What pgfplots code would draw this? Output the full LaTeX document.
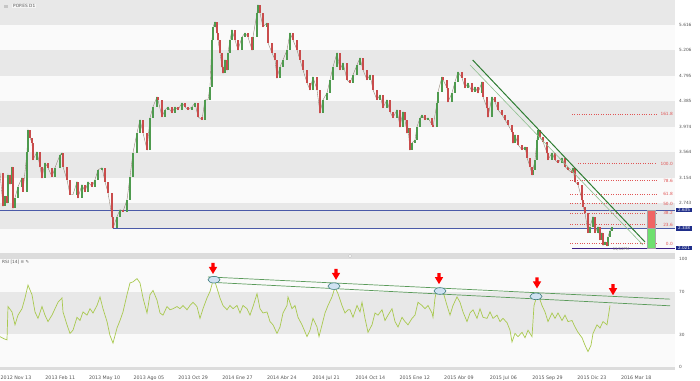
\documentclass[border=0pt]{standalone}
\usepackage{pgfplots}
\pgfplotsset{compat=1.18}
\usepackage{pgfplotstable}
\usepackage{fontspec}
\setmainfont{DejaVu Sans}
\definecolor{bandgray}{HTML}{E8E8E8}
\definecolor{bandwhite}{HTML}{FAFAFA}
\definecolor{stripgray}{HTML}{DCDCDC}
\definecolor{upc}{HTML}{4E9A4E}
\definecolor{dnc}{HTML}{C94C4C}
\definecolor{wick}{HTML}{8A7A6A}
\definecolor{rsic}{HTML}{A9C94F}
\definecolor{trendg}{HTML}{2E7D32}
\definecolor{trendl}{HTML}{8FC08F}
\definecolor{navyb}{HTML}{1F2E8A}
\definecolor{bluel}{HTML}{4A5AA8}
\definecolor{fibred}{HTML}{E05555}
\definecolor{ticktext}{HTML}{555555}
\definecolor{ellfill}{HTML}{D0E2F2}
\definecolor{elldraw}{HTML}{3F7F80}
\definecolor{boxred}{HTML}{F06464}
\definecolor{boxgreen}{HTML}{6EE06E}
\definecolor{rsitrend}{HTML}{5A9A5A}

\pgfdeclareplotmark{darrow}{%
  \pgfpathmoveto{\pgfqpoint{-1.6bp}{5.5bp}}%
  \pgfpathlineto{\pgfqpoint{1.6bp}{5.5bp}}%
  \pgfpathlineto{\pgfqpoint{1.6bp}{1.5bp}}%
  \pgfpathlineto{\pgfqpoint{4.2bp}{1.5bp}}%
  \pgfpathlineto{\pgfqpoint{0bp}{-5.5bp}}%
  \pgfpathlineto{\pgfqpoint{-4.2bp}{1.5bp}}%
  \pgfpathlineto{\pgfqpoint{-1.6bp}{1.5bp}}%
  \pgfpathclose
  \pgfusepathqfill}
\pgfdeclareplotmark{ell}{%
  \pgfpathellipse{\pgfpointorigin}{\pgfqpoint{6bp}{0bp}}{\pgfqpoint{0bp}{3.3bp}}%
  \pgfusepathqfillstroke}

\pgfplotstableread{
x c
0 3.233
3 2.70
5 2.85
7 2.750
8 3.201
10 3.05
12 3.330
13 2.66
15 2.831
18 3.008
22 3.153
23 2.927
27 3.571
28 3.926
30 3.80
32 3.716
33 3.442
37 3.571
40 3.330
42 3.153
45 3.394
48 3.314
52 3.169
55 3.314
60 3.523
62 3.555
63 3.330
67 3.120
70 2.879
73 2.879
77 3.088
78 2.831
82 3.040
85 2.927
88 3.088
92 3.008
95 3.120
98 3.281
102 3.314
105 3.088
108 2.911
112 2.525
113 2.34
117 2.525
120 2.637
123 2.605
127 2.798
130 3.169
133 3.555
137 3.877
140 4.087
143 3.877
147 3.604
150 4.119
153 4.296
157 4.457
158 4.409
162 4.135
165 4.248
168 4.296
172 4.199
175 4.296
178 4.248
182 4.360
185 4.296
188 4.248
192 4.296
195 4.360
198 4.135
202 4.087
205 4.409
208 4.409
210 4.618
212 5.375
213 5.584
215 5.665
217 5.488
218 5.375
220 5.166
222 4.940
223 4.843
225 5.053
227 4.892
228 5.166
230 5.375
232 5.536
235 5.375
238 5.214
242 5.423
245 5.488
248 5.423
252 5.214
253 5.423
257 5.810
258 5.938
260 5.810
263 5.584
267 5.649
268 5.327
272 5.166
275 5.053
277 4.763
280 4.940
283 5.053
287 5.214
290 5.488
293 5.375
297 5.214
300 5.053
303 4.892
307 4.682
310 4.570
313 4.779
317 4.570
320 4.199
323 4.409
327 4.521
330 4.731
333 4.940
337 5.166
340 4.892
343 5.005
347 4.731
350 4.682
353 4.811
357 4.972
360 5.085
363 4.892
367 4.731
370 4.811
373 4.570
377 4.409
380 4.489
383 4.280
387 4.409
390 4.215
393 4.119
397 4.248
400 3.974
403 4.216
405 4.087
407 3.877
408 3.958
410 3.604
412 3.716
415 3.765
417 3.974
420 4.119
422 4.167
425 4.087
428 4.119
432 4.006
433 3.974
437 4.360
438 4.538
442 4.779
443 4.731
447 4.602
448 4.376
452 4.521
455 4.699
458 4.860
462 4.763
465 4.602
468 4.682
472 4.538
475 4.618
478 4.521
482 4.699
483 4.457
487 4.280
488 4.135
492 4.457
495 4.376
498 4.248
502 4.167
505 4.087
508 4.006
512 3.893
513 3.716
515 3.845
518 3.684
522 3.604
525 3.652
527 3.475
530 3.330
532 3.201
533 3.282
535 3.442
537 3.765
538 3.926
540 3.813
543 3.732
547 3.555
548 3.442
552 3.555
555 3.442
558 3.394
562 3.475
565 3.330
568 3.282
572 3.233
573 3.314
575 3.088
578 3.040
582 2.798
583 2.686
585 2.589
588 2.267
590 2.364
593 2.525
595 2.267
598 2.364
600 2.154
602 2.267
603 2.06
605 2.12
607 2.05
608 2.203
610 2.30
612 2.36
}\price
\pgfplotstablecreatecol[create col/assign/.code={%
  \ifnum\pgfplotstablerow=0 \getthisrow{c}\pv \else \getprevrow{c}\pv \fi
  \pgfkeyslet{/pgfplots/table/create col/next content}\pv}]{o}{\price}

\pgfplotstableread{
x r
0 28
4 26
7 25
8 56
12 51
15 39
18 48
22 54
25 64
28 76
32 67
35 51
38 45
42 56
45 48
48 42
52 48
55 54
58 60
62 64
63 51
67 39
70 31
73 34
77 46
80 43
83 51
87 48
90 54
93 50
97 57
100 65
103 54
107 42
110 29
113 22
117 36
120 43
123 51
127 67
130 78
133 79
137 82
140 78
143 64
147 50
150 67
153 71
157 62
160 50
163 48
167 56
170 53
173 54
177 56
180 54
183 57
187 53
190 57
193 60
197 56
200 45
203 54
207 64
210 70
213 80
215 79
217 73
220 64
223 57
227 53
230 57
233 54
237 57
240 50
243 57
247 54
250 48
253 56
257 68
260 54
263 50
267 51
270 42
273 39
277 31
280 37
283 50
287 57
288 65
292 54
295 57
298 46
302 39
307 28
310 34
313 45
317 37
319 28
322 39
325 50
328 57
332 65
335 74
338 68
342 57
345 50
348 53
350 53
353 46
357 57
360 51
362 60
365 45
368 32
372 39
375 50
378 48
382 53
385 43
388 48
392 54
395 42
398 37
402 46
405 42
408 39
412 45
415 48
418 60
422 57
425 54
428 57
432 50
433 46
435 64
437 72
440 70
443 70
447 57
450 48
453 57
457 65
460 60
463 51
467 42
470 50
473 53
477 45
480 54
483 46
487 45
490 51
493 45
497 48
500 42
503 45
507 41
510 34
512 23
515 31
518 28
522 32
525 27
528 34
532 28
534 57
537 66
539 65
542 57
545 51
548 42
552 50
555 45
558 50
562 43
565 48
568 42
572 43
575 37
578 32
582 27
585 20
588 14
591 20
593 31
597 39
600 36
603 42
607 39
610 57
}\rsi

\newcommand{\tickfont}{\fontsize{4.3}{5}\selectfont}
\newcommand{\datefont}{\fontsize{4.8}{5.5}\selectfont}
\tikzset{fibline/.style={fibred, line width=0.6bp, dash pattern=on 1bp off 1.4bp}}

\begin{document}
\begin{tikzpicture}
\path[use as bounding box] (0,0) rectangle (700bp,381bp);
% ---------------- price panel ----------------
\begin{axis}[
  anchor=south west, at={(0,128bp)},
  width=675bp, height=253bp, scale only axis,
  xmin=0, xmax=675, ymin=1.9387, ymax=6.0192,
  axis line style={draw=none}, major tick length=0pt, tick style={draw=none},
  xtick=\empty,
  ytick={2.743,3.154,3.564,3.974,4.385,4.795,5.206,5.616},
  yticklabels={2.743,3.154,3.564,3.974,4.385,4.795,5.206,5.616},
  yticklabel pos=right,
  yticklabel style={font=\tickfont, text=ticktext, anchor=west, inner sep=0pt, xshift=4bp},
  axis background/.style={fill=bandwhite},
  clip=false,
]
% bands
\addplot[fill=bandgray, draw=none, forget plot] coordinates {(0,5.616) (675,5.616) (675,6.0192) (0,6.0192)} --cycle;
\addplot[fill=bandgray, draw=none, forget plot] coordinates {(0,4.795) (675,4.795) (675,5.206) (0,5.206)} --cycle;
\addplot[fill=bandgray, draw=none, forget plot] coordinates {(0,3.974) (675,3.974) (675,4.385) (0,4.385)} --cycle;
\addplot[fill=bandgray, draw=none, forget plot] coordinates {(0,3.154) (675,3.154) (675,3.564) (0,3.564)} --cycle;
\addplot[fill=bandgray, draw=none, forget plot] coordinates {(0,2.333) (675,2.333) (675,2.743) (0,2.743)} --cycle;
% separator strip
\addplot[fill=stripgray, draw=none, forget plot] coordinates {(0,1.9387) (675,1.9387) (675,1.842) (0,1.842)} --cycle;
\addplot[only marks, mark=*, mark size=1.6bp, mark options={fill=white, draw=gray!50, line width=0.4bp}, forget plot] coordinates {(350,1.890)};
% horizontal levels
\addplot[bluel, line width=0.6bp, forget plot] coordinates {(0,2.635) (675,2.635)};
\addplot[bluel, line width=0.6bp, forget plot] coordinates {(113,2.338) (675,2.338)};
\addplot[navyb!70!violet, line width=0.6bp, forget plot] coordinates {(572,2.021) (675,2.021)};
% fibonacci levels
\addplot[fibline, forget plot] coordinates {(572,4.181) (657,4.181)};
\addplot[fibline, forget plot] coordinates {(578,3.382) (657,3.382)};
\addplot[fibline, forget plot] coordinates {(570,3.105) (657,3.105)};
\addplot[fibline, forget plot] coordinates {(570,2.888) (657,2.888)};
\addplot[fibline, forget plot] coordinates {(570,2.735) (657,2.735)};
\addplot[fibline, forget plot] coordinates {(570,2.583) (657,2.583)};
\addplot[fibline, forget plot] coordinates {(570,2.394) (657,2.394)};
\addplot[fibline, forget plot] coordinates {(570,2.089) (657,2.089)};
\foreach \v/\l in {4.181/161.8, 3.382/100.0, 3.105/78.6, 2.888/61.8, 2.735/50.0, 2.583/38.2, 2.394/23.6, 2.089/0.0}{
  \edef\tmp{\noexpand\node[anchor=east, font=\noexpand\tickfont, text=fibred, inner sep=0pt] at (axis cs:673,\v) {\l};}\tmp
}
% target box
\addplot[fill=boxred, draw=gray!70, line width=0.4bp, forget plot] coordinates {(647,2.635) (655,2.635) (655,2.338) (647,2.338)} --cycle;
\addplot[fill=boxgreen, draw=gray!70, line width=0.4bp, forget plot] coordinates {(647,2.338) (655,2.338) (655,2.021) (647,2.021)} --cycle;
% price: thin close line
\addplot[wick, line width=0.35bp, forget plot] table[x=x, y=c] {\price};
% up candles
\addplot[draw=none, no marks, forget plot,
  error bars/.cd, y dir=both, y explicit, error mark=none,
  error bar style={draw=upc, draw opacity=1, line width=1.9bp}]
  table[x=x, y expr={(\thisrow{c}+\thisrow{o})/2}, y error expr={abs(\thisrow{c}-\thisrow{o})/2},
        restrict expr to domain={\thisrow{c}-\thisrow{o}}{0:10}] {\price};
% down candles
\addplot[draw=none, no marks, forget plot,
  error bars/.cd, y dir=both, y explicit, error mark=none,
  error bar style={draw=dnc, draw opacity=1, line width=1.9bp}]
  table[x=x, y expr={(\thisrow{c}+\thisrow{o})/2}, y error expr={abs(\thisrow{c}-\thisrow{o})/2},
        restrict expr to domain={\thisrow{c}-\thisrow{o}}{-10:-0.00001}] {\price};
% trend lines
\addplot[trendl, line width=0.6bp, forget plot] coordinates {(470,4.971) (643,2.068)};
\addplot[trendg, line width=1bp, forget plot] coordinates {(472.7,5.051) (645,2.116)};
% value boxes
\node[fill=navyb, text=white, font=\fontsize{4.2}{5}\selectfont, inner xsep=1.8bp, inner ysep=0.7bp, anchor=west] at (axis cs:676,2.635) {2.635};
\node[fill=navyb, text=white, font=\fontsize{4.2}{5}\selectfont, inner xsep=1.8bp, inner ysep=0.7bp, anchor=west] at (axis cs:676,2.338) {2.338};
\node[fill=navyb, text=white, font=\fontsize{4.2}{5}\selectfont, inner xsep=1.8bp, inner ysep=0.7bp, anchor=west] at (axis cs:676,2.021) {2.021};
\node[font=\fontsize{3.8}{4}\selectfont, text=gray] at (axis cs:621,1.995) {11/12PM};
% title
\node[fill=gray!45, minimum width=4bp, minimum height=3bp, inner sep=0pt] at (axis cs:6,5.922) {};
\node[anchor=west, font=\tickfont, text=ticktext, fill=white!92!gray, inner xsep=1bp, inner ysep=0.8bp] at (axis cs:12,5.922) {POP.ES D1};
\end{axis}
% ---------------- RSI panel ----------------
\begin{axis}[
  anchor=south west, at={(0,14.3bp)},
  width=675bp, height=107.4bp, scale only axis,
  xmin=0, xmax=675, ymin=0, ymax=100,
  axis line style={draw=none}, major tick length=0pt, tick style={draw=none},
  xtick={16,60.3,104.6,148.9,193.2,237.5,281.8,326.1,370.4,414.7,459,503.3,547.6,591.9,636.2},
  xticklabels={2012 Nov 13,2013 Feb 11,2013 May 10,2013 Ago 05,2013 Oct 29,2014 Ene 27,2014 Abr 24,2014 Jul 21,2014 Oct 14,2015 Ene 12,2015 Abr 09,2015 Jul 06,2015 Sep 29,2015 Dic 23,2016 Mar 18},
  xticklabel style={font=\datefont, text=ticktext, anchor=base, inner sep=0pt, yshift=-12.5bp},
  ytick={0,30,70,100}, yticklabels={0,30,70,100},
  yticklabel pos=right,
  yticklabel style={font=\tickfont, text=ticktext, anchor=west, inner sep=0pt, xshift=4bp},
  axis background/.style={fill=bandwhite},
  clip=false,
]
\addplot[fill=bandgray, draw=none, forget plot] coordinates {(0,30) (675,30) (675,70) (0,70)} --cycle;
\addplot[fill=stripgray, draw=none, forget plot] coordinates {(0,0) (675,0) (675,-3.2) (0,-3.2)} --cycle;
\addplot[rsic, line width=0.7bp, forget plot] table[x=x, y=r] {\rsi};
\addplot[rsitrend, line width=0.7bp, forget plot] coordinates {(208,83.6) (670,62.9)};
\addplot[rsitrend, line width=0.7bp, forget plot] coordinates {(213,78.5) (670,56.7)};
\addplot[only marks, mark=ell, mark options={fill=ellfill, draw=elldraw, line width=0.6bp}, forget plot]
  coordinates {(214,81) (334,75) (440,70.5) (536,65.5)};
\addplot[only marks, mark=darrow, mark options={fill=red, draw=none}, forget plot]
  coordinates {(213,91.5) (336,86) (439,82) (537,78) (613,71.7)};
\node[anchor=west, font=\tickfont, text=ticktext, inner sep=0pt] at (axis cs:2,97) {RSI [14] ≡ ✎};
\end{axis}
\end{tikzpicture}
\end{document}
